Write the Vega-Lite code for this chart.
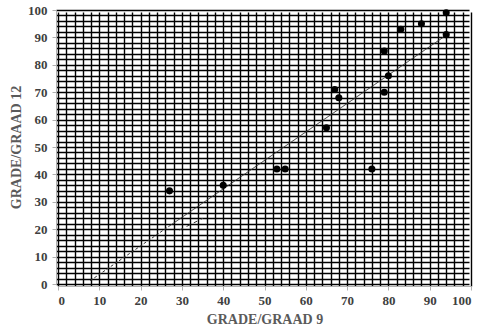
{
  "$schema": "https://vega.github.io/schema/vega-lite/v6.json",
  "width": 413,
  "height": 274,
  "autosize": {"type": "none"},
  "padding": {"left": 58, "top": 10, "right": 17, "bottom": 46},
  "background": "white",
  "config": {
    "view": {"stroke": null},
    "axis": {
      "grid": true,
      "gridColor": "#000000",
      "gridWidth": 1.4,
      "gridOpacity": 1,
      "tickCount": 50,
      "domainColor": "#b0b0b0",
      "domainWidth": 1,
      "tickColor": "#b0b0b0",
      "tickSize": 4,
      "tickOpacity": {"condition": {"test": "datum.value % 10 === 0", "value": 1}, "value": 0},
      "labelExpr": "datum.value % 10 === 0 ? datum.label : ''",
      "labelOverlap": false,
      "labelFont": "Times New Roman, Liberation Serif, serif",
      "labelFontWeight": "bold",
      "labelFontSize": 13,
      "labelColor": "#404040",
      "titleFont": "Times New Roman, Liberation Serif, serif",
      "titleFontWeight": "bold",
      "titleFontSize": 14,
      "titleColor": "#5a5a5a",
      "offset": 2
    }
  },
  "datasets": {
    "pts": [
      {"g9": 27, "g12": 34},
      {"g9": 40, "g12": 36},
      {"g9": 53, "g12": 42},
      {"g9": 55, "g12": 42},
      {"g9": 65, "g12": 57},
      {"g9": 67, "g12": 71},
      {"g9": 68, "g12": 68},
      {"g9": 76, "g12": 42},
      {"g9": 79, "g12": 85},
      {"g9": 79, "g12": 70},
      {"g9": 80, "g12": 76},
      {"g9": 83, "g12": 93},
      {"g9": 88, "g12": 95},
      {"g9": 94, "g12": 99},
      {"g9": 94, "g12": 91}
    ],
    "fit": [
      {"seg": "a", "g9": 7.8, "g12": 1.2},
      {"seg": "a", "g9": 27, "g12": 21.2},
      {"seg": "b", "g9": 27, "g12": 21.2},
      {"seg": "b", "g9": 94, "g12": 90.8},
      {"seg": "c", "g9": 29.4, "g12": 19.7},
      {"seg": "c", "g9": 35.1, "g12": 24.0}
    ]
  },
  "layer": [
    {
      "data": {"name": "fit"},
      "mark": {"type": "line", "color": "#333333", "strokeWidth": 1},
      "encoding": {
        "x": {"field": "g9", "type": "quantitative", "scale": {"domain": [0, 100], "nice": false}, "title": "GRADE/GRAAD 9",
              "axis": {"labelPadding": 4, "titlePadding": 5}},
        "y": {"field": "g12", "type": "quantitative", "scale": {"domain": [0, 100], "nice": false}, "title": "GRADE/GRAAD 12",
              "axis": {"labelPadding": 5, "titlePadding": 4}},
        "detail": {"field": "seg"},
        "strokeDash": {"field": "seg", "type": "nominal", "scale": {"domain": ["a", "b", "c"], "range": [[3, 2], [1, 0], [4, 4]]}, "legend": null}
      }
    },
    {
      "data": {"name": "pts"},
      "mark": {"type": "circle", "color": "#000000", "opacity": 1, "size": 50},
      "encoding": {
        "x": {"field": "g9", "type": "quantitative"},
        "y": {"field": "g12", "type": "quantitative"}
      }
    }
  ]
}
